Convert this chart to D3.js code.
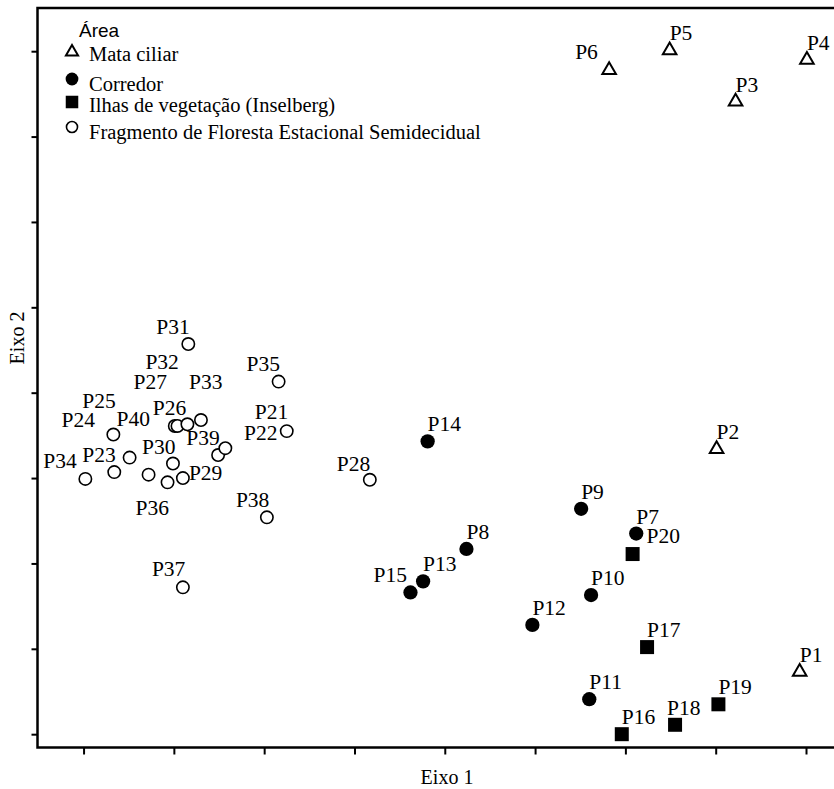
<!DOCTYPE html>
<html>
<head>
<meta charset="utf-8">
<script src="https://cdn.jsdelivr.net/npm/d3@7/dist/d3.min.js"></script>
<style>
body { margin: 0; background: #fff; }
</style>
</head>
<body>
<div id="chart"></div>
<script>
// areas (legend order)
var areas = ["Mata ciliar", "Corredor", "Ilhas de vegetação (Inselberg)", "Fragmento de Floresta Estacional Semidecidual"];

// plots P1..P40
var plots = ["P1","P2","P3","P4","P5","P6","P7","P8","P9","P10",
    "P11","P12","P13","P14","P15","P16","P17","P18","P19","P20",
    "P21","P22","P23","P24","P25","P26","P27","P28","P29","P30",
    "P31","P32","P33","P34","P35","P36","P37","P38","P39","P40"];
var plotArea = [0,0,0,0,0,0,1,1,1,1,
    1,1,1,1,1,2,2,2,2,2,
    3,3,3,3,3,3,3,3,3,3,
    3,3,3,3,3,3,3,3,3,3];
var eixo1 = [7.93,7.01,7.22,8.01,6.49,5.82,6.12,4.24,5.51,5.62,
    5.60,4.97,3.76,3.81,3.62,5.96,6.24,6.55,7.03,6.08,
    2.25,1.49,0.34,0.72,0.33,1.01,1.04,3.17,1.10,0.99,
    1.16,1.15,1.30,0.02,2.16,0.93,1.10,2.03,1.57,0.51];
var eixo2 = [0.73,3.34,7.41,7.90,8.01,7.78,2.35,2.17,2.64,1.63,
    0.41,1.28,1.79,3.43,1.66,0.00,1.02,0.11,0.35,2.11,
    3.55,3.27,3.07,3.04,3.51,3.61,3.61,2.98,3.00,3.17,
    4.57,3.63,3.68,2.99,4.13,2.95,1.72,2.54,3.35,3.24];

// unlabelled tick values
var xTicks = [0,1,2,3,4,5,6,7,8];
var yTicks = [0,1,2,3,4,5,6,7,8];

// label placement (px offset from the point to the text start/baseline)
var labelShift = {
    P6: [-34,-11], P15: [-37,-10], P18: [-8,-10], P20: [14,-11],
    P21: [-32,-12], P22: [26,-15], P23: [-32,-10], P24: [-87,-48], P25: [-31,-27],
    P26: [-22,-11], P27: [-44,-37], P28: [-33,-9], P29: [6,2], P30: [-31,-10],
    P31: [-32,-10], P32: [-42,-55], P33: [-12,-31], P34: [-42,-11], P35: [-32,-11],
    P36: [-32,33], P37: [-31,-11], P38: [-31,-10], P39: [-39,-3], P40: [-13,-32]
};

var W = 834, H = 789;
var serif = "'Liberation Serif', 'Times New Roman', serif";

var svg = d3.select("#chart").append("svg")
    .attr("width", W).attr("height", H)
    .attr("viewBox", "0 0 " + W + " " + H);

var x = d3.scaleLinear().domain([-0.51, 8.31]).range([37.5, 834]);
var y = d3.scaleLinear().domain([-0.156, 8.506]).range([747.5, 8]);

// frame (right side runs off the picture)
svg.append("rect")
    .attr("x", x(-0.51)).attr("y", y(8.506))
    .attr("width", W + 10 - x(-0.51)).attr("height", y(-0.156) - y(8.506))
    .attr("fill", "none").attr("stroke", "#000").attr("stroke-width", 2.5);

svg.append("g")
    .attr("transform", "translate(0," + y(-0.156) + ")")
    .call(d3.axisBottom(x).tickValues(xTicks).tickSize(7).tickFormat(""))
    .call(function (g) { g.select(".domain").remove(); g.selectAll("line").attr("stroke-width", 2); });

svg.append("g")
    .attr("transform", "translate(" + x(-0.51) + ",0)")
    .call(d3.axisLeft(y).tickValues(yTicks).tickSize(6).tickFormat(""))
    .call(function (g) { g.select(".domain").remove(); g.selectAll("line").attr("stroke-width", 2); });

svg.append("text")
    .attr("x", 447).attr("y", 784)
    .attr("text-anchor", "middle")
    .style("font-family", serif).style("font-size", "20px")
    .text("Eixo 1");

svg.append("text")
    .attr("transform", "translate(24,338) rotate(-90)")
    .attr("text-anchor", "middle")
    .style("font-family", serif).style("font-size", "20px")
    .text("Eixo 2");

// one symbol per area
var symType = [d3.symbolTriangle, d3.symbolCircle, d3.symbolSquare, d3.symbolCircle];
var symSize = [80, 160, 196, 120];
var symFill = ["#fff", "#000", "#000", "#fff"];
var symStroke = [2, 0, 0, 1.6];

function drawSymbol(sel, a, scale) {
    sel.attr("d", d3.symbol().type(symType[a]).size(symSize[a] * (scale || 1))())
        .attr("fill", symFill[a])
        .attr("stroke", "#000")
        .attr("stroke-width", symStroke[a]);
}

var idx = d3.range(plots.length);

svg.append("g").selectAll("path")
    .data(idx).enter().append("path")
    .attr("transform", function (i) { return "translate(" + x(eixo1[i]) + "," + y(eixo2[i]) + ")"; })
    .each(function (i) { drawSymbol(d3.select(this), plotArea[i]); });

svg.append("g").selectAll("text")
    .data(idx).enter().append("text")
    .attr("x", function (i) { var s = labelShift[plots[i]] || [0, -10]; return x(eixo1[i]) + s[0]; })
    .attr("y", function (i) { var s = labelShift[plots[i]] || [0, -10]; return y(eixo2[i]) + s[1]; })
    .style("font-family", serif).style("font-size", "21.5px")
    .text(function (i) { return plots[i]; });

// legend
var legSymY = [52, 79, 102, 127];
var legTextY = [61, 91, 112, 139];
var leg = svg.append("g");
leg.append("text")
    .attr("x", 79).attr("y", 37)
    .style("font-family", "'Liberation Sans', Arial, sans-serif").style("font-size", "19px")
    .text("Área");
areas.forEach(function (name, a) {
    leg.append("path")
        .attr("transform", "translate(72," + legSymY[a] + ")")
        .call(drawSymbol, a, 0.8);
    leg.append("text")
        .attr("x", 89).attr("y", legTextY[a])
        .style("font-family", serif).style("font-size", "20.5px")
        .text(name);
});
</script>
</body>
</html>
